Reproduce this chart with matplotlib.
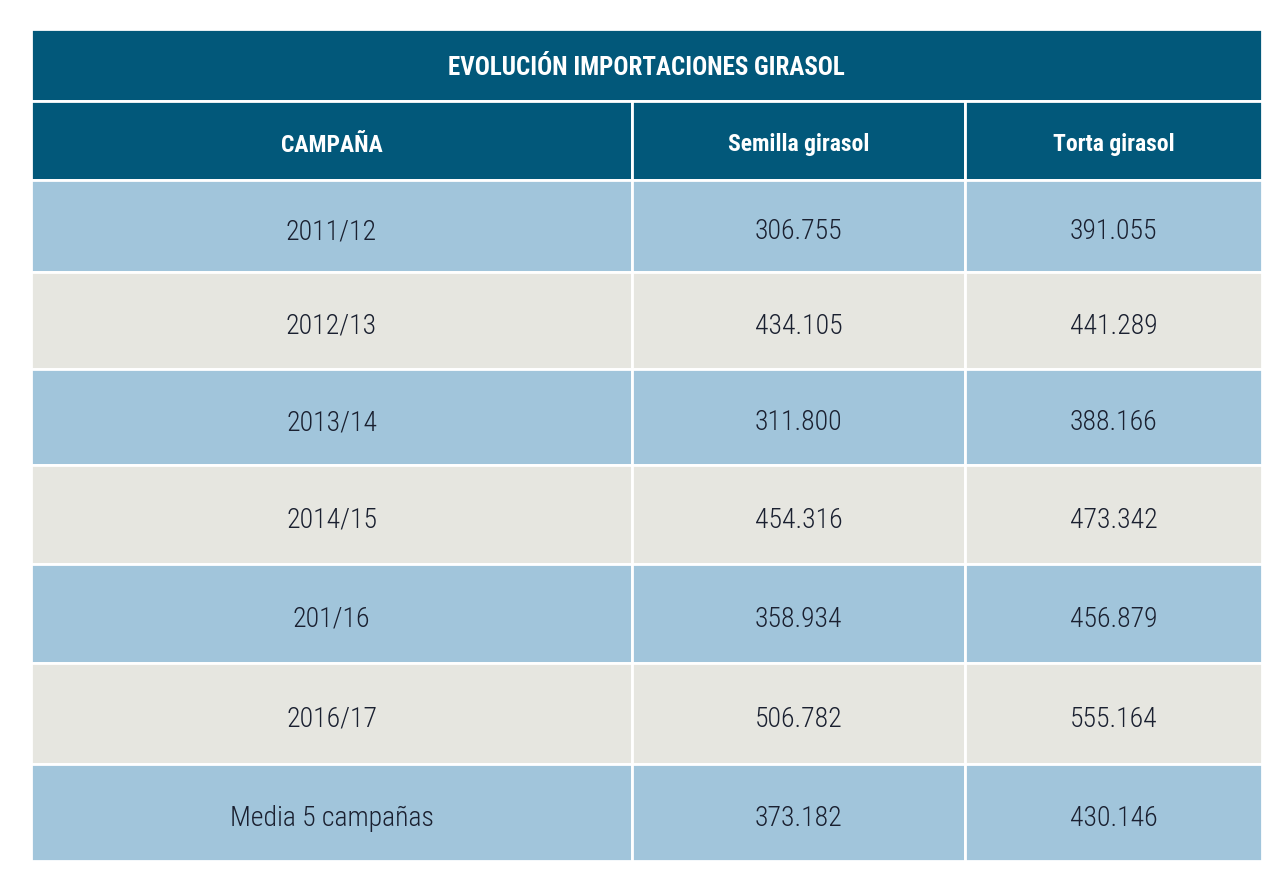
import matplotlib.pyplot as plt
from matplotlib.patches import Rectangle

plt.rcParams['font.family'] = ['Roboto Condensed', 'DejaVu Sans']

title = "EVOLUCIÓN IMPORTACIONES GIRASOL"
headers = ["CAMPAÑA", "Semilla girasol", "Torta girasol"]
campanas = ["2011/12", "2012/13", "2013/14", "2014/15", "201/16", "2016/17", "Media 5 campañas"]
semilla = ["306.755", "434.105", "311.800", "454.316", "358.934", "506.782", "373.182"]
torta = ["391.055", "441.289", "388.166", "473.342", "456.879", "555.164", "430.146"]

dark = "#02587a"
blue = "#a1c5db"
grey = "#e6e6e0"
txt = "#1a2030"

fig = plt.figure(figsize=(12.79, 8.79), dpi=100)
ax = fig.add_axes([0, 0, 1, 1])
ax.set_xlim(0, 1279)
ax.set_ylim(879, 0)
ax.axis("off")

col_edges = [31, 632, 965, 1262]
row_edges = [181, 273, 370, 466, 565, 664, 765, 862]
gap = 2


def cell(x0, x1, y0, y1, color):
    ax.add_patch(Rectangle((x0, y0), x1 - x0, y1 - y0, facecolor=color, edgecolor="white", linewidth=gap))


# title row
cell(31, 1262, 30, 102, dark)
ax.text((31 + 1262) / 2, 68, title, ha="center", va="center", color="white",
        fontsize=18, fontweight="bold")

# header row
for j, h in enumerate(headers):
    cell(col_edges[j], col_edges[j + 1], 102, 181, dark)
    ax.text((col_edges[j] + col_edges[j + 1]) / 2, 145, h, ha="center", va="center",
            color="white", fontsize=17, fontweight="bold")

# body
for i in range(len(campanas)):
    color = blue if i % 2 == 0 else grey
    y0, y1 = row_edges[i], row_edges[i + 1]
    vals = [campanas[i], semilla[i], torta[i]]
    for j, v in enumerate(vals):
        cell(col_edges[j], col_edges[j + 1], y0, y1, color)
        ax.text((col_edges[j] + col_edges[j + 1]) / 2, (y0 + y1) / 2 + 5, v, ha="center", va="center",
                color=txt, fontsize=20, fontweight="light")

fig.savefig("out.png", dpi=100)
